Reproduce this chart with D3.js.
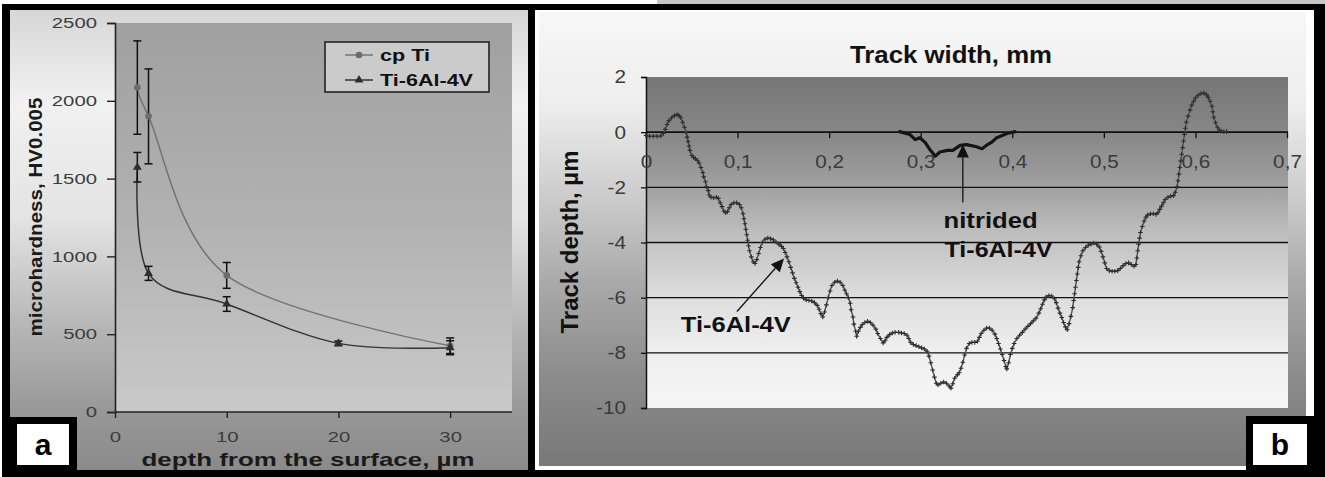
<!DOCTYPE html>
<html><head><meta charset="utf-8">
<script src="https://cdn.jsdelivr.net/npm/d3@7"></script>
<style>
body{margin:0;background:#fff}
svg{display:block}
text{font-family:Arial,"Liberation Sans",sans-serif}
</style>
</head><body>
<svg id="c" width="1325" height="477"></svg>
<script>
// ---------- Panel a data ----------
const depthCp = [2, 3, 10, 30];
const cpTiHV = [2085, 1900, 878, 426];
const cpTiErr = [300, 305, 83, 50];
const depthTi = [2, 3, 10, 20, 30];
const ti64HV = [1573, 891, 694, 441, 413];
const ti64Err = [95, 45, 47, 15, 45];
const xTicksA = [0, 10, 20, 30];
const yTicksA = [0, 500, 1000, 1500, 2000, 2500];
const seriesNamesA = ["cp Ti", "Ti-6Al-4V"];

// ---------- Panel b data ----------
const trackX = [0.000,0.004,0.008,0.012,0.016,0.019,0.021,0.023,0.025,0.028,0.031,0.034,0.036,0.038,0.040,0.042,0.044,0.045,0.046,0.047,0.048,0.050,0.052,0.054,0.056,0.058,0.060,0.062,0.063,0.065,0.066,0.068,0.069,0.071,0.074,0.077,0.079,0.081,0.083,0.085,0.087,0.089,0.091,0.093,0.096,0.099,0.102,0.104,0.106,0.107,0.108,0.109,0.110,0.111,0.112,0.113,0.115,0.117,0.119,0.121,0.123,0.125,0.127,0.130,0.133,0.136,0.139,0.142,0.145,0.148,0.150,0.152,0.154,0.156,0.158,0.160,0.162,0.164,0.166,0.168,0.170,0.172,0.175,0.178,0.181,0.184,0.187,0.189,0.191,0.193,0.195,0.197,0.199,0.201,0.203,0.206,0.209,0.212,0.215,0.217,0.219,0.221,0.223,0.224,0.226,0.227,0.229,0.230,0.232,0.234,0.236,0.239,0.242,0.245,0.248,0.251,0.253,0.256,0.259,0.261,0.263,0.266,0.269,0.272,0.276,0.279,0.282,0.285,0.287,0.289,0.292,0.295,0.298,0.301,0.304,0.307,0.309,0.311,0.313,0.315,0.317,0.319,0.322,0.325,0.328,0.331,0.333,0.335,0.337,0.340,0.342,0.344,0.346,0.348,0.350,0.353,0.356,0.359,0.362,0.364,0.366,0.369,0.372,0.375,0.378,0.381,0.383,0.385,0.387,0.389,0.391,0.393,0.394,0.396,0.398,0.400,0.402,0.405,0.408,0.411,0.414,0.417,0.420,0.423,0.426,0.429,0.431,0.433,0.435,0.437,0.440,0.443,0.446,0.448,0.450,0.452,0.454,0.456,0.458,0.460,0.462,0.464,0.466,0.467,0.468,0.469,0.470,0.471,0.472,0.473,0.475,0.477,0.480,0.483,0.486,0.489,0.492,0.495,0.497,0.499,0.501,0.503,0.506,0.509,0.512,0.515,0.518,0.521,0.524,0.527,0.530,0.533,0.535,0.536,0.537,0.538,0.539,0.540,0.542,0.544,0.546,0.548,0.551,0.554,0.557,0.559,0.561,0.563,0.565,0.567,0.570,0.573,0.576,0.578,0.580,0.581,0.582,0.583,0.584,0.585,0.586,0.587,0.588,0.589,0.590,0.592,0.594,0.596,0.598,0.600,0.603,0.606,0.609,0.612,0.614,0.616,0.618,0.619,0.620,0.622,0.624,0.626,0.628,0.631,0.634];
const trackDepth = [-0.12,-0.15,-0.15,-0.15,-0.14,-0.05,0.10,0.28,0.42,0.52,0.60,0.64,0.60,0.52,0.36,0.18,-0.02,-0.18,-0.34,-0.50,-0.66,-0.84,-0.92,-0.96,-1.02,-1.12,-1.28,-1.46,-1.62,-1.80,-1.98,-2.12,-2.28,-2.36,-2.38,-2.36,-2.40,-2.56,-2.70,-2.86,-2.92,-2.88,-2.74,-2.62,-2.56,-2.56,-2.62,-2.74,-2.96,-3.14,-3.32,-3.52,-3.72,-3.92,-4.12,-4.30,-4.52,-4.70,-4.76,-4.62,-4.40,-4.18,-4.00,-3.88,-3.84,-3.86,-3.90,-3.98,-4.06,-4.14,-4.22,-4.36,-4.52,-4.70,-4.90,-5.10,-5.30,-5.46,-5.62,-5.78,-5.92,-6.02,-6.08,-6.10,-6.12,-6.18,-6.28,-6.42,-6.58,-6.70,-6.52,-6.26,-6.00,-5.76,-5.56,-5.44,-5.40,-5.44,-5.56,-5.72,-5.86,-6.00,-6.20,-6.44,-6.70,-6.96,-7.22,-7.40,-7.22,-7.08,-6.98,-6.90,-6.86,-6.90,-7.00,-7.14,-7.30,-7.48,-7.64,-7.56,-7.44,-7.34,-7.28,-7.26,-7.26,-7.28,-7.30,-7.36,-7.48,-7.62,-7.70,-7.74,-7.78,-7.82,-7.86,-7.94,-8.12,-8.36,-8.62,-8.88,-9.10,-9.16,-9.10,-9.06,-9.10,-9.20,-9.28,-9.12,-8.92,-8.80,-8.72,-8.56,-8.34,-8.08,-7.84,-7.66,-7.62,-7.62,-7.58,-7.44,-7.30,-7.18,-7.10,-7.10,-7.18,-7.32,-7.48,-7.66,-7.86,-8.06,-8.28,-8.50,-8.58,-8.36,-8.06,-7.84,-7.66,-7.48,-7.36,-7.26,-7.14,-7.04,-6.94,-6.84,-6.74,-6.56,-6.40,-6.24,-6.08,-5.98,-5.92,-5.94,-6.04,-6.18,-6.38,-6.56,-6.72,-6.90,-7.06,-7.16,-6.94,-6.68,-6.36,-6.10,-5.86,-5.62,-5.38,-5.14,-4.90,-4.70,-4.48,-4.30,-4.18,-4.10,-4.06,-4.02,-4.06,-4.16,-4.32,-4.52,-4.74,-4.94,-5.02,-5.04,-5.04,-5.02,-4.94,-4.84,-4.76,-4.74,-4.80,-4.86,-4.80,-4.56,-4.30,-4.06,-3.84,-3.64,-3.42,-3.22,-3.08,-3.00,-2.96,-2.96,-2.98,-2.92,-2.80,-2.68,-2.56,-2.44,-2.36,-2.32,-2.30,-2.18,-1.98,-1.76,-1.52,-1.28,-1.04,-0.80,-0.56,-0.32,-0.08,0.14,0.36,0.58,0.80,0.98,1.12,1.24,1.34,1.40,1.42,1.36,1.26,1.12,0.94,0.74,0.54,0.34,0.18,0.08,0.04,0.02,0.02];
const nitrX = [0.277,0.288,0.294,0.299,0.305,0.310,0.316,0.321,0.329,0.335,0.343,0.350,0.354,0.360,0.367,0.373,0.378,0.383,0.389,0.394,0.403];
const nitrDepth = [0.02,-0.08,-0.27,-0.20,-0.38,-0.63,-0.87,-0.72,-0.66,-0.66,-0.48,-0.45,-0.48,-0.52,-0.60,-0.45,-0.35,-0.20,-0.12,-0.05,0.02];
const xTicksB = [0, 0.1, 0.2, 0.3, 0.4, 0.5, 0.6, 0.7];
const yTicksB = [2, 0, -2, -4, -6, -8, -10];
const gridB = [0, -2, -4, -6, -8];

// ---------- helpers ----------
const svg = d3.select("#c");
const defs = svg.append("defs");
function grad(id, stops, y1, y2) {
  const g = defs.append("linearGradient").attr("id", id)
    .attr("gradientUnits", "userSpaceOnUse").attr("x1", 0).attr("x2", 0).attr("y1", y1).attr("y2", y2);
  stops.forEach(s => g.append("stop").attr("offset", s[0]).attr("stop-color", s[1]));
}
function stretch(sel, f) {
  sel.each(function () {
    const w = this.getComputedTextLength();
    this.setAttribute("textLength", w * f);
    this.setAttribute("lengthAdjust", "spacingAndGlyphs");
  });
}
function fitW(sel, w) {
  sel.attr("textLength", w).attr("lengthAdjust", "spacingAndGlyphs");
}

// ---------- frames ----------
svg.append("rect").attr("x", 657).attr("y", 0).attr("width", 668).attr("height", 4).attr("fill", "#c6c6c6");
svg.append("rect").attr("x", 2).attr("y", 4).attr("width", 1323).attr("height", 473).attr("fill", "#000");

grad("bgA", [[0, "#d6d6d6"], [0.2, "#f1f1f1"], [0.45, "#e4e4e4"], [0.7, "#b4b4b4"], [0.87, "#989898"], [1, "#8a8a8a"]], 10, 470);
grad("plotA", [[0, "#a0a0a0"], [0.5, "#b1b1b1"], [1, "#c9c9c9"]], 23, 412);
grad("bgB", [[0, "#f7f7f7"], [0.2, "#eeeeee"], [0.4, "#cdcdcd"], [0.6, "#a9a9a9"], [0.8, "#8c8c8c"], [1, "#787878"]], 12, 466);
grad("plotB", [[0, "#767676"], [0.17, "#878787"], [0.33, "#a0a0a0"], [0.5, "#c4c4c4"], [0.67, "#dedede"], [0.83, "#efefef"], [1, "#f6f6f6"]], 77, 408);

svg.append("rect").attr("x", 10).attr("y", 10).attr("width", 518).attr("height", 460).attr("fill", "url(#bgA)");
svg.append("rect").attr("x", 535).attr("y", 10).attr("width", 779).attr("height", 460).attr("fill", "#fff");
svg.append("rect").attr("x", 539).attr("y", 12).attr("width", 767).attr("height", 454).attr("fill", "url(#bgB)");

// ================= Panel a =================
const xA = d3.scaleLinear().domain([0, 35]).range([115, 506]);
const yA = d3.scaleLinear().domain([0, 2500]).range([412, 23]);
svg.append("rect").attr("x", 115).attr("y", 23).attr("width", 397).attr("height", 389).attr("fill", "url(#plotA)");

const axAy = svg.append("g").attr("transform", "translate(115,0)")
  .call(d3.axisLeft(yA).tickValues(yTicksA).tickSize(8).tickPadding(10).tickFormat(d3.format("d")));
const axAx = svg.append("g").attr("transform", "translate(0,412)")
  .call(d3.axisBottom(xA).tickValues(xTicksA).tickSize(6).tickPadding(14).tickFormat(d3.format("d")));
[axAy, axAx].forEach(a => {
  a.select(".domain").attr("stroke", "#222").attr("stroke-width", 1.6);
  a.selectAll(".tick line").attr("stroke", "#222").attr("stroke-width", 1.4);
  a.selectAll("text").attr("font-size", 14.5).attr("fill", "#3c3c3c").call(stretch, 1.4);
});
axAx.select(".domain").attr("d", "M115,0H512");

const lineA = d3.line().x(d => xA(d[0])).y(d => yA(d[1])).curve(d3.curveCardinal.tension(0));
const cpPts = depthCp.map((d, i) => [d, cpTiHV[i], cpTiErr[i]]);
const tiPts = depthTi.map((d, i) => [d, ti64HV[i], ti64Err[i]]);
svg.append("path").attr("d", lineA(cpPts)).attr("fill", "none").attr("stroke", "#747474").attr("stroke-width", 1.5);
svg.append("path").attr("d", lineA(tiPts)).attr("fill", "none").attr("stroke", "#333").attr("stroke-width", 1.5);

function errBars(pts) {
  const g = svg.append("g").attr("stroke", "#111").attr("stroke-width", 1.5);
  pts.forEach(p => {
    const x = xA(p[0]), y1 = yA(p[1] + p[2]), y2 = yA(p[1] - p[2]);
    g.append("line").attr("x1", x).attr("x2", x).attr("y1", y1).attr("y2", y2);
    g.append("line").attr("x1", x - 4).attr("x2", x + 4).attr("y1", y1).attr("y2", y1);
    g.append("line").attr("x1", x - 4).attr("x2", x + 4).attr("y1", y2).attr("y2", y2);
  });
}
errBars(cpPts); errBars(tiPts);
svg.append("g").selectAll("circle").data(cpPts).join("circle")
  .attr("cx", d => xA(d[0])).attr("cy", d => yA(d[1])).attr("r", 3.3).attr("fill", "#6c6c6c");
const tri = d3.symbol().type(d3.symbolTriangle).size(34);
svg.append("g").selectAll("path").data(tiPts).join("path")
  .attr("transform", d => `translate(${xA(d[0])},${yA(d[1])})`).attr("d", tri()).attr("fill", "#2e2e2e");

// legend
const lg = svg.append("g");
lg.append("rect").attr("x", 325).attr("y", 42).attr("width", 164).attr("height", 50)
  .attr("fill", "#cbcbcb").attr("stroke", "#222").attr("stroke-width", 1.6);
const legY = [55, 80];
lg.append("line").attr("x1", 345).attr("x2", 373).attr("y1", legY[0]).attr("y2", legY[0]).attr("stroke", "#747474").attr("stroke-width", 1.5);
lg.append("circle").attr("cx", 359).attr("cy", legY[0]).attr("r", 3.3).attr("fill", "#6c6c6c");
lg.append("line").attr("x1", 345).attr("x2", 373).attr("y1", legY[1]).attr("y2", legY[1]).attr("stroke", "#333").attr("stroke-width", 1.5);
lg.append("path").attr("transform", `translate(359,${legY[1]})`).attr("d", tri()).attr("fill", "#2e2e2e");
const legW = [50, 93];
seriesNamesA.forEach((n, i) => {
  lg.append("text").attr("x", 380).attr("y", legY[i] + 6).attr("font-size", 17).attr("font-weight", "bold")
    .attr("fill", "#111").text(n).call(fitW, legW[i]);
});

// axis titles a
svg.append("text").attr("x", 308).attr("y", 466).attr("text-anchor", "middle").attr("font-size", 18.5)
  .attr("font-weight", "bold").attr("fill", "#1a1a1a").text("depth from the surface, µm").call(fitW, 333);
svg.append("text").attr("transform", "translate(42,217) rotate(-90)").attr("text-anchor", "middle")
  .attr("font-size", 19).attr("font-weight", "bold").attr("fill", "#1a1a1a").text("microhardness, HV0.005").call(fitW, 239);

// label a
svg.append("rect").attr("x", 10).attr("y", 417).attr("width", 67).attr("height", 55).attr("fill", "#000");
svg.append("rect").attr("x", 17).attr("y", 424).attr("width", 52).attr("height", 41).attr("fill", "#fff");
svg.append("text").attr("x", 43).attr("y", 455).attr("text-anchor", "middle").attr("font-size", 30)
  .attr("font-weight", "bold").text("a");

// ================= Panel b =================
const xB = d3.scaleLinear().domain([0, 0.7]).range([646, 1287]);
const yB = d3.scaleLinear().domain([-10, 2]).range([408, 77]);
svg.append("rect").attr("x", 646).attr("y", 77).attr("width", 642).attr("height", 331).attr("fill", "url(#plotB)");

svg.append("g").selectAll("line").data(gridB).join("line")
  .attr("x1", 646).attr("x2", 1288).attr("y1", d => yB(d)).attr("y2", d => yB(d))
  .attr("stroke", "#111").attr("stroke-width", 1.4);

const axBy = svg.append("g").attr("transform", "translate(646,0)")
  .call(d3.axisLeft(yB).tickValues(yTicksB).tickSize(5).tickPadding(15).tickFormat(d => String(d)));
const axBx = svg.append("g").attr("transform", `translate(0,${yB(0)})`)
  .call(d3.axisBottom(xB).tickValues(xTicksB).tickSize(6).tickPadding(17)
    .tickFormat(d => d === 0 ? "0" : d3.format(".1f")(d).replace(".", ",")));
[axBy, axBx].forEach(a => {
  a.select(".domain").attr("stroke", "#111").attr("stroke-width", 1.5);
  a.selectAll(".tick line").attr("stroke", "#111").attr("stroke-width", 1.3);
  a.selectAll("text").attr("font-size", 18.5).attr("fill", "#3a3a3a").call(stretch, 1.12);
});
axBx.select(".domain").attr("d", "M646,0H1288");

const lineB = d3.line().x(d => xB(d[0])).y(d => yB(d[1]));
const trackPts = trackX.map((x, i) => [x, trackDepth[i]]);
svg.append("path").attr("d", lineB(trackPts)).attr("fill", "none").attr("stroke", "#555").attr("stroke-width", 1.4);
const plus = svg.append("g").attr("stroke", "#2e2e2e").attr("stroke-width", 1.1);
trackPts.forEach(p => {
  const x = xB(p[0]), y = yB(p[1]);
  plus.append("path").attr("d", `M${x - 2.3},${y}H${x + 2.3}M${x},${y - 2.3}V${y + 2.3}`);
});
const nitrPts = nitrX.map((x, i) => [x, nitrDepth[i]]);
svg.append("path").attr("d", lineB(nitrPts)).attr("fill", "none").attr("stroke", "#151515")
  .attr("stroke-width", 3.2).attr("stroke-linejoin", "round").attr("stroke-linecap", "round");

// annotations
function arrow(x1, y1, x2, y2) {
  const a = [xB(x1), yB(y1)], b = [xB(x2), yB(y2)];
  const ang = Math.atan2(b[1] - a[1], b[0] - a[0]);
  const L = 13, W = 6;
  const bx = b[0] - L * Math.cos(ang), by = b[1] - L * Math.sin(ang);
  svg.append("line").attr("x1", a[0]).attr("y1", a[1]).attr("x2", bx).attr("y2", by)
    .attr("stroke", "#111").attr("stroke-width", 1.3);
  svg.append("path").attr("d",
    `M${b[0]},${b[1]}L${bx + W * Math.sin(ang)},${by - W * Math.cos(ang)}L${bx - W * Math.sin(ang)},${by + W * Math.cos(ang)}Z`)
    .attr("fill", "#111");
}
arrow(0.346, -2.55, 0.346, -0.45);
arrow(0.0993, -6.5, 0.1507, -4.58);
svg.append("text").attr("x", xB(0.325)).attr("y", yB(-3.46)).attr("font-size", 22).attr("font-weight", "bold")
  .attr("fill", "#111").text("nitrided").call(fitW, 94);
svg.append("text").attr("x", xB(0.326)).attr("y", yB(-4.54)).attr("font-size", 22).attr("font-weight", "bold")
  .attr("fill", "#111").text("Ti-6Al-4V").call(fitW, 108);
svg.append("text").attr("x", xB(0.038)).attr("y", yB(-7.26)).attr("font-size", 22).attr("font-weight", "bold")
  .attr("fill", "#111").text("Ti-6Al-4V").call(fitW, 110);

// titles b
svg.append("text").attr("x", 951).attr("y", 63).attr("text-anchor", "middle").attr("font-size", 23)
  .attr("font-weight", "bold").attr("fill", "#111").text("Track width, mm").call(fitW, 202);
svg.append("text").attr("transform", "translate(578,242) rotate(-90)").attr("text-anchor", "middle")
  .attr("font-size", 24).attr("font-weight", "bold").attr("fill", "#111").text("Track depth, µm").call(fitW, 183);

// label b
svg.append("rect").attr("x", 1246).attr("y", 416).attr("width", 79).attr("height", 61).attr("fill", "#000");
svg.append("rect").attr("x", 1253).attr("y", 424).attr("width", 54).attr("height", 41).attr("fill", "#fff");
svg.append("text").attr("x", 1280).attr("y", 455).attr("text-anchor", "middle").attr("font-size", 30)
  .attr("font-weight", "bold").text("b");
</script>
</body></html>
